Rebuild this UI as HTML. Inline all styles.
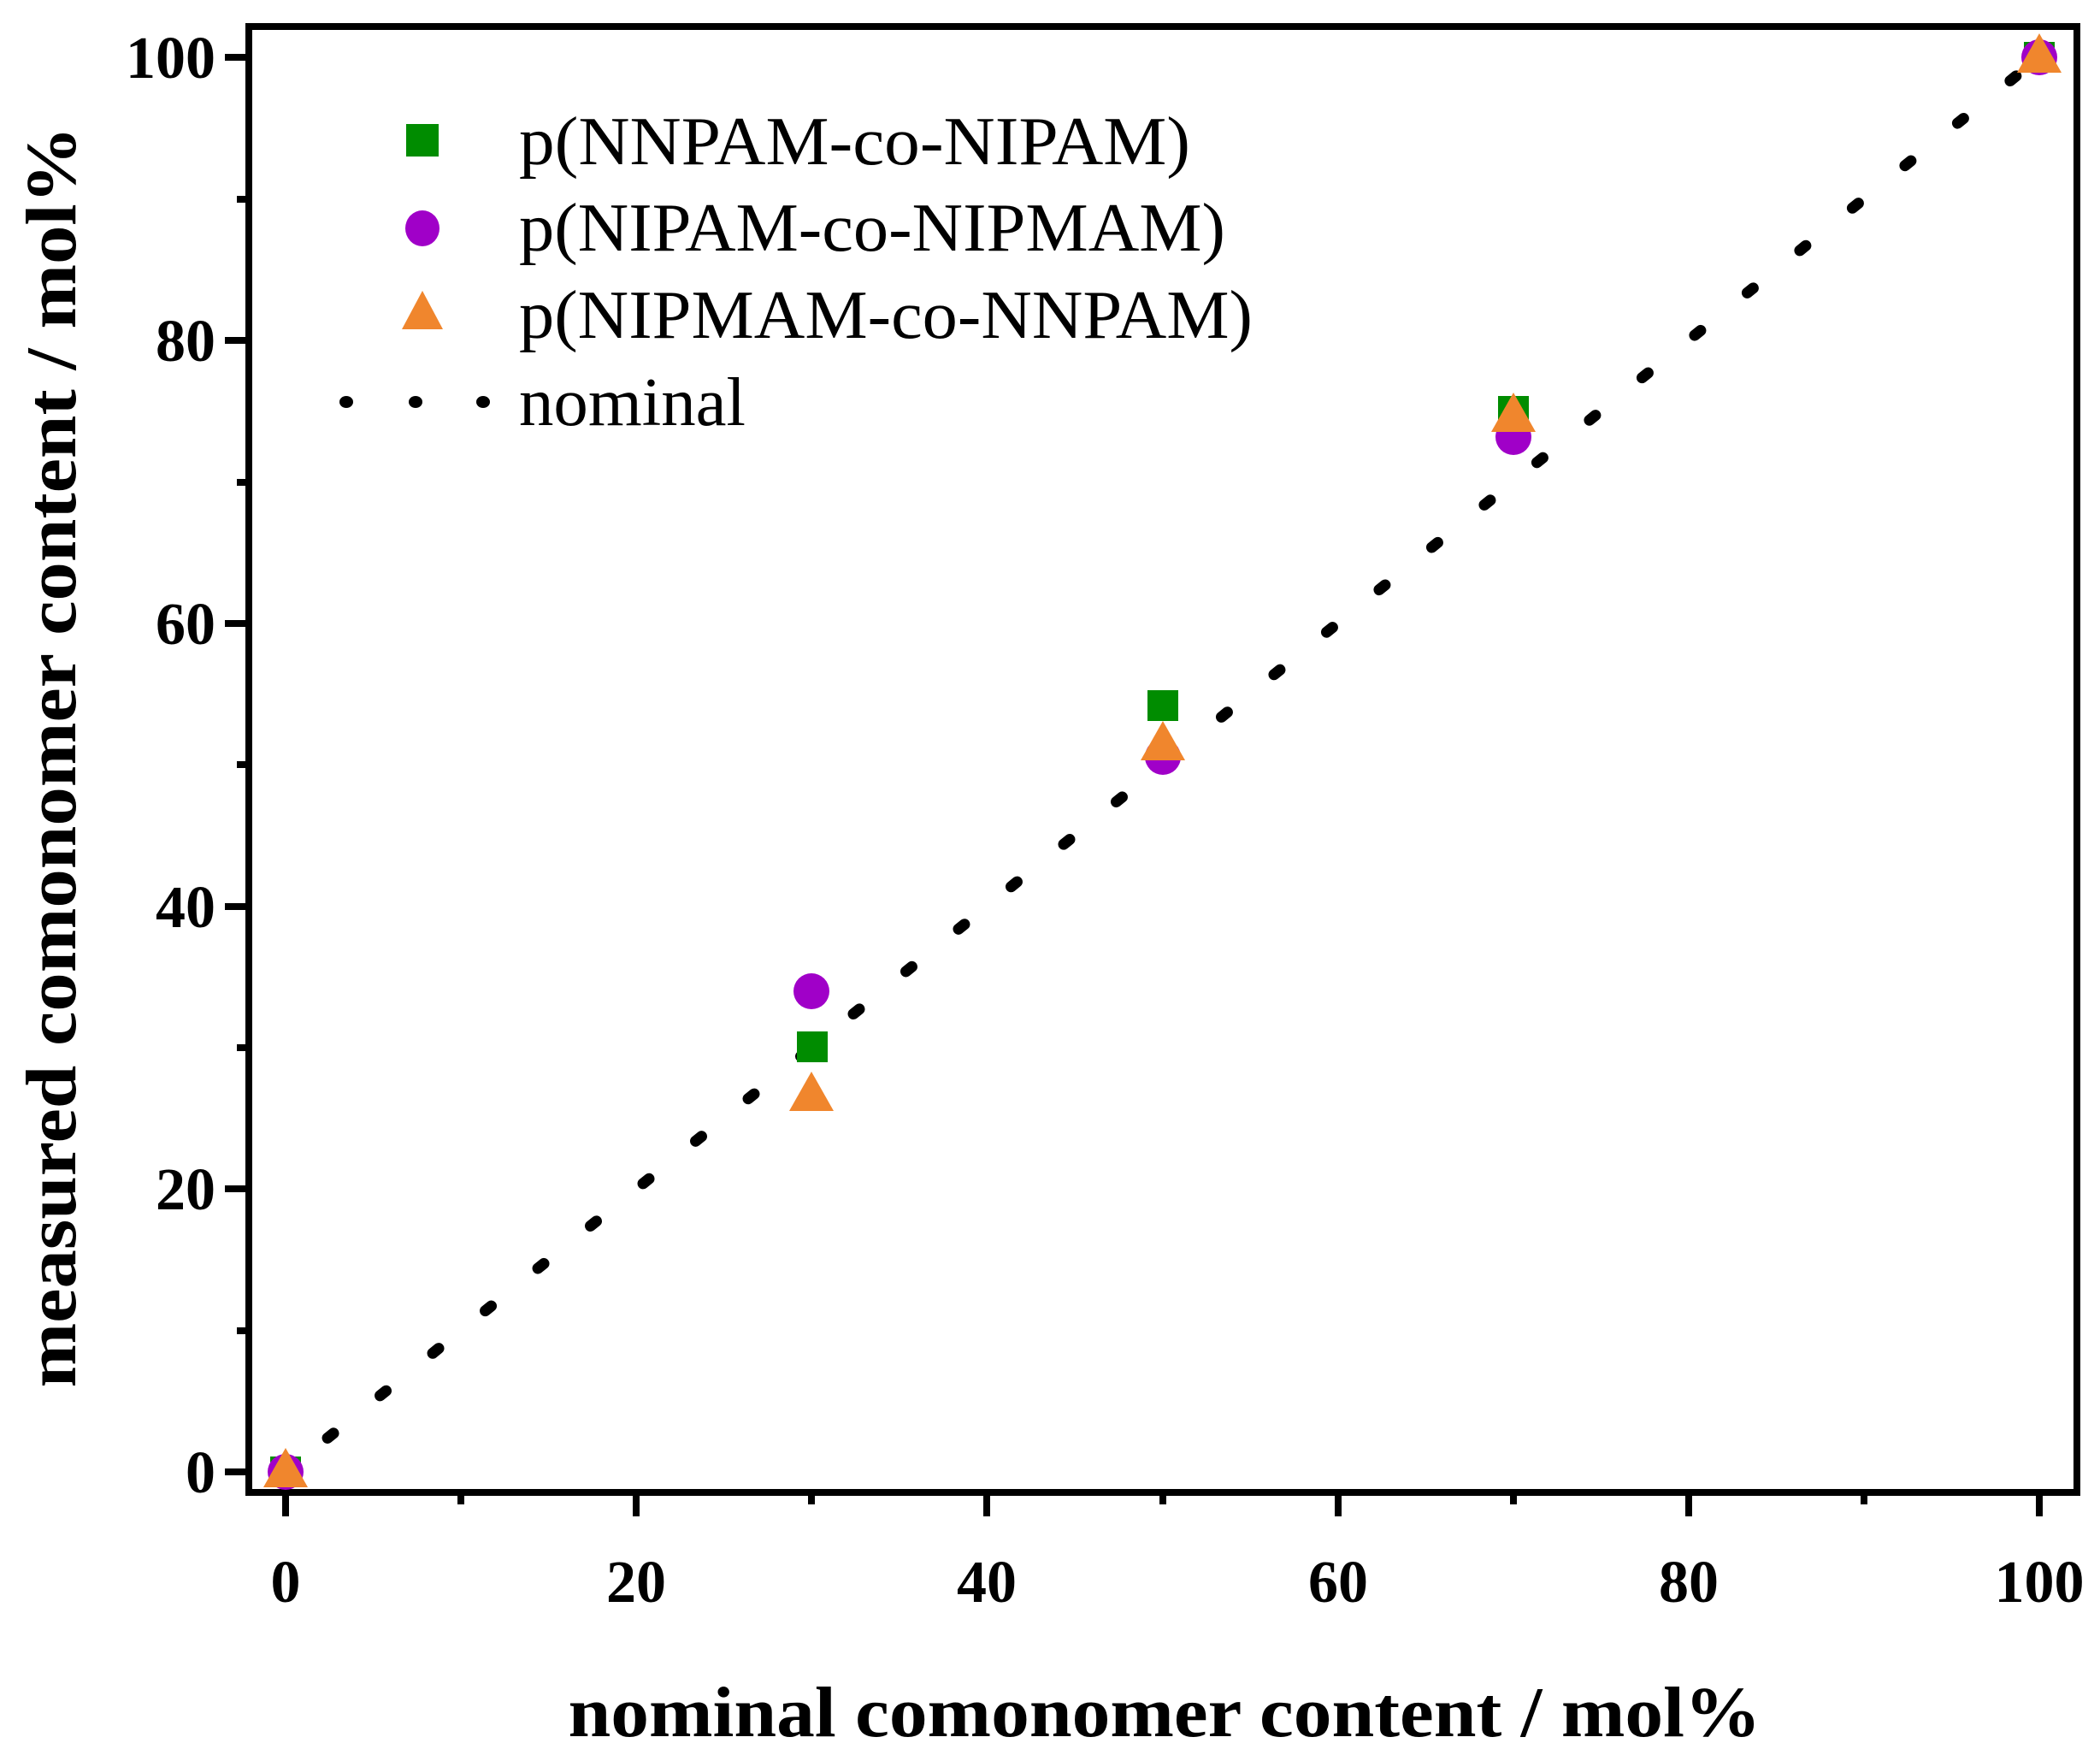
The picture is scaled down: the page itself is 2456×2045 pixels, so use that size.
<!DOCTYPE html>
<html><head><meta charset="utf-8"><style>html,body{margin:0;padding:0;background:#fff}</style></head>
<body>
<svg width="2456" height="2040" viewBox="0 0 2456 2040" xmlns="http://www.w3.org/2000/svg">
<rect width="2456" height="2040" fill="#fff"/>
<line x1="334" y1="1721" x2="2385" y2="67" stroke="#000" stroke-width="13" stroke-linecap="round" stroke-dasharray="9 70" stroke-dashoffset="-63"/>
<g font-family="Liberation Serif, serif" font-weight="bold" font-size="70" fill="#000">
<g stroke="#000" stroke-width="8">
<rect x="291" y="31" width="2138" height="1714" fill="none"/>
<line x1="334" y1="1745" x2="334" y2="1773"/><line x1="744" y1="1745" x2="744" y2="1773"/><line x1="1154" y1="1745" x2="1154" y2="1773"/><line x1="1565" y1="1745" x2="1565" y2="1773"/><line x1="1975" y1="1745" x2="1975" y2="1773"/><line x1="2385" y1="1745" x2="2385" y2="1773"/>
<line x1="539" y1="1745" x2="539" y2="1759"/><line x1="949" y1="1745" x2="949" y2="1759"/><line x1="1360" y1="1745" x2="1360" y2="1759"/><line x1="1770" y1="1745" x2="1770" y2="1759"/><line x1="2180" y1="1745" x2="2180" y2="1759"/>
<line x1="263" y1="1721" x2="291" y2="1721"/><line x1="263" y1="1390" x2="291" y2="1390"/><line x1="263" y1="1060" x2="291" y2="1060"/><line x1="263" y1="729" x2="291" y2="729"/><line x1="263" y1="398" x2="291" y2="398"/><line x1="263" y1="67" x2="291" y2="67"/>
<line x1="277" y1="1556" x2="291" y2="1556"/><line x1="277" y1="1225" x2="291" y2="1225"/><line x1="277" y1="894" x2="291" y2="894"/><line x1="277" y1="564" x2="291" y2="564"/><line x1="277" y1="233" x2="291" y2="233"/>
</g>
<g text-anchor="middle">
<text x="334" y="1873">0</text><text x="744" y="1873">20</text><text x="1154" y="1873">40</text><text x="1565" y="1873">60</text><text x="1975" y="1873">80</text><text x="2385" y="1873">100</text>
</g>
<g text-anchor="end">
<text x="252" y="1745">0</text><text x="252" y="1414">20</text><text x="252" y="1084">40</text><text x="252" y="753">60</text><text x="252" y="422">80</text><text x="252" y="91">100</text>
</g>
<text x="1362" y="2030" font-size="84" text-anchor="middle" textLength="1395" lengthAdjust="spacingAndGlyphs">nominal comonomer content / mol%</text>
<text transform="translate(88,885) rotate(-90)" font-size="84" text-anchor="middle" textLength="1475" lengthAdjust="spacingAndGlyphs">measured comonomer content / mol%</text>
</g>
<g fill="#008c00">
<rect x="316" y="1703" width="36" height="36"/><rect x="932" y="1206" width="36" height="36"/><rect x="1342" y="807" width="36" height="36"/><rect x="1752" y="463" width="36" height="36"/><rect x="2367" y="49" width="36" height="36"/>
</g>
<g fill="#a000c8">
<circle cx="334" cy="1721" r="21"/><circle cx="949" cy="1159" r="21"/><circle cx="1360" cy="885" r="21"/><circle cx="1770" cy="511" r="21"/><circle cx="2385" cy="67" r="21"/>
</g>
<g fill="#f0862d">
<polygon points="334,1693 308,1739 360,1739"/><polygon points="949,1253 923,1299 975,1299"/><polygon points="1360,843 1334,889 1386,889"/><polygon points="1770,459 1744,505 1796,505"/><polygon points="2385,39 2359,85 2411,85"/>
</g>
<rect x="475" y="145" width="38" height="38" fill="#008c00"/>
<ellipse cx="494" cy="267" rx="20" ry="21" fill="#a000c8"/>
<polygon points="494,340 470,385 518,385" fill="#f0862d"/>
<g fill="#000"><ellipse cx="405" cy="470" rx="8" ry="7"/><ellipse cx="486" cy="470" rx="8" ry="7"/><ellipse cx="565" cy="470" rx="8" ry="7"/></g>
<g font-family="Liberation Serif, serif" font-size="80" fill="#000">
<text x="607" y="192" textLength="785" lengthAdjust="spacingAndGlyphs">p(NNPAM-co-NIPAM)</text>
<text x="607" y="293" textLength="826" lengthAdjust="spacingAndGlyphs">p(NIPAM-co-NIPMAM)</text>
<text x="607" y="395" textLength="858" lengthAdjust="spacingAndGlyphs">p(NIPMAM-co-NNPAM)</text>
<text x="607" y="497" textLength="265" lengthAdjust="spacingAndGlyphs">nominal</text>
</g>
</svg>
</body></html>
